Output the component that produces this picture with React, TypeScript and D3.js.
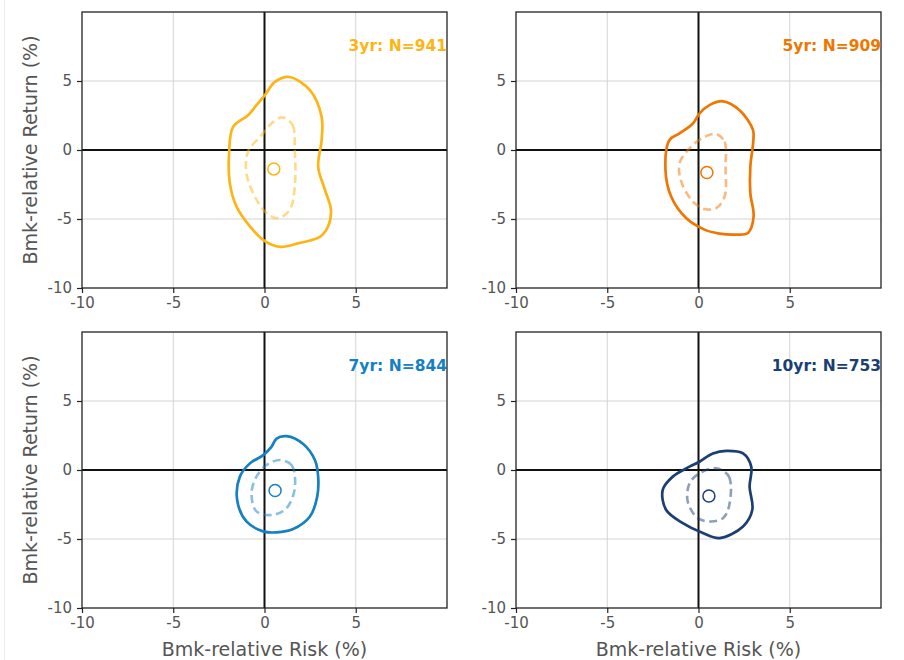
import React, { useEffect, useRef } from "react";
import * as d3 from "d3";

// contour points: [risk, return] in %
const outer3: [number, number][] = [
  [1.35, 5.29], [2.49, 4.33], [3.13, 2.4], [3.13, 0.72], [2.94, -1.2], [3.31, -2.88],
  [3.64, -4.33], [3.49, -5.53], [3.03, -6.3], [1.94, -6.73], [0.84, -7.02], [0.02, -6.61],
  [-0.8, -5.53], [-1.54, -4.09], [-1.9, -2.4], [-1.94, -0.24], [-1.72, 1.68], [-0.9, 2.52],
  [-0.44, 3.25], [0.02, 3.97], [0.57, 4.93],
];
const inner3: [number, number][] = [
  [0.99, 2.36], [1.54, 1.8], [1.66, 0], [1.66, -2.64], [1.39, -4.33], [0.75, -4.93],
  [0.11, -4.57], [-0.53, -3.37], [-0.99, -1.68], [-0.9, -0.12], [-0.16, 1.08], [0.48, 2.04],
];
const outer5: [number, number][] = [
  [1.34, 3.53], [2.25, 2.88], [2.99, 1.44], [2.99, 0.48], [2.84, -1.2], [2.84, -3.13],
  [3.02, -4.81], [2.71, -6.01], [2.07, -6.13], [1.15, -6.06], [0.33, -5.77], [-0.68, -4.93],
  [-1.5, -3.37], [-1.81, -1.44], [-1.59, 0.72], [-1.04, 1.2], [-0.31, 1.92], [0.05, 2.64],
  [0.6, 3.25],
];
const inner5: [number, number][] = [
  [0.97, 1.15], [1.43, 0.6], [1.48, -1.2], [1.43, -3.37], [0.97, -4.21], [0.33, -4.28],
  [-0.31, -3.73], [-0.95, -2.28], [-1.04, -0.96], [-0.49, 0.12], [0.33, 0.96],
];
const outer7: [number, number][] = [
  [1.21, 2.45], [2.12, 1.88], [2.76, 0.72], [2.94, -0.48], [2.89, -1.92], [2.49, -3.37],
  [1.57, -4.28], [0.66, -4.52], [-0.07, -4.45], [-0.99, -3.73], [-1.5, -2.16], [-1.35, -0.48],
  [-0.8, 0.48], [-0.07, 1.08], [0.38, 1.68], [0.66, 2.28],
];
const inner7: [number, number][] = [
  [0.84, 0.72], [1.48, 0.36], [1.66, -1.32], [1.21, -2.76], [0.48, -3.25], [-0.44, -3.0],
  [-0.71, -1.68], [-0.44, -0.48], [0.11, 0.36],
];
const outer10: [number, number][] = [
  [1.52, 1.39], [2.44, 1.2], [2.89, 0.24], [2.8, -1.2], [2.95, -2.88], [2.44, -4.09],
  [1.15, -4.93], [0.24, -4.57], [-0.86, -3.85], [-1.78, -2.88], [-1.96, -1.44], [-1.41, -0.48],
  [-0.49, 0.24], [0.05, 0.6], [0.79, 1.2],
];
const inner10: [number, number][] = [
  [0.97, 0.12], [1.67, -0.48], [1.67, -2.64], [1.34, -3.49], [0.7, -3.73], [-0.04, -3.49],
  [-0.59, -2.28], [-0.49, -0.96], [0.05, -0.24],
];

const periods = ["3yr", "5yr", "7yr", "10yr"];
const counts = [941, 909, 844, 753];
const means: [number, number][] = [[0.51, -1.37], [0.46, -1.63], [0.58, -1.49], [0.57, -1.88]];
const outers = [outer3, outer5, outer7, outer10];
const inners = [inner3, inner5, inner7, inner10];
const colors = ["#FDB515", "#EF7600", "#1580C4", "#1B3F73"];
const ticks = [-10, -5, 0, 5];
const gridTicks = [-5, 5];

const W = 904, H = 660;
const panels = [
  { left: 82, top: 12 },
  { left: 516, top: 12 },
  { left: 82, top: 332 },
  { left: 516, top: 332 },
];
const PW = 365, PH = 276;

export default function App() {
  const ref = useRef<SVGSVGElement>(null);

  useEffect(() => {
    const svg = d3.select(ref.current);
    svg.selectAll("*").remove();
    const font = "DejaVu Sans";

    svg.append("rect").attr("width", W).attr("height", H).attr("fill", "#fff");
    svg.append("line").attr("x1", 4.5).attr("x2", 4.5).attr("y1", 0).attr("y2", H)
      .attr("stroke", "#e6edf5").attr("stroke-width", 1);

    panels.forEach((p, i) => {
      const x = d3.scaleLinear().domain([-10, 10]).range([p.left, p.left + PW]);
      const y = d3.scaleLinear().domain([-10, 10]).range([p.top + PH, p.top]);
      const g = svg.append("g");

      // grid
      gridTicks.forEach((t) => {
        g.append("line").attr("x1", x(t)).attr("x2", x(t)).attr("y1", p.top).attr("y2", p.top + PH)
          .attr("stroke", "#d4d4d4").attr("stroke-width", 1);
        g.append("line").attr("y1", y(t)).attr("y2", y(t)).attr("x1", p.left).attr("x2", p.left + PW)
          .attr("stroke", "#d4d4d4").attr("stroke-width", 1);
      });

      // zero lines
      g.append("line").attr("x1", x(0)).attr("x2", x(0)).attr("y1", p.top).attr("y2", p.top + PH)
        .attr("stroke", "#111").attr("stroke-width", 2);
      g.append("line").attr("y1", y(0)).attr("y2", y(0)).attr("x1", p.left).attr("x2", p.left + PW)
        .attr("stroke", "#111").attr("stroke-width", 2);

      const line = d3.line<[number, number]>()
        .x((d) => x(d[0])).y((d) => y(d[1]))
        .curve(d3.curveCatmullRomClosed.alpha(0.5));

      g.append("path").attr("d", line(inners[i])).attr("fill", "none")
        .attr("stroke", colors[i]).attr("stroke-opacity", 0.5)
        .attr("stroke-width", 2.6).attr("stroke-dasharray", "8,4.5");
      g.append("path").attr("d", line(outers[i])).attr("fill", "none")
        .attr("stroke", colors[i]).attr("stroke-width", 2.7);
      g.append("circle").attr("cx", x(means[i][0])).attr("cy", y(means[i][1])).attr("r", 6)
        .attr("fill", "none").attr("stroke", colors[i]).attr("stroke-width", 1.5);

      // frame
      g.append("rect").attr("x", p.left).attr("y", p.top).attr("width", PW).attr("height", PH)
        .attr("fill", "none").attr("stroke", "#222").attr("stroke-width", 1.3);

      // axes
      const xa = g.append("g").attr("transform", `translate(0,${p.top + PH})`)
        .call(d3.axisBottom(x).tickValues(ticks).tickSize(5).tickPadding(4).tickFormat(d3.format("d")));
      const ya = g.append("g").attr("transform", `translate(${p.left},0)`)
        .call(d3.axisLeft(y).tickValues(ticks).tickSize(5).tickPadding(5).tickFormat(d3.format("d")));
      [xa, ya].forEach((a) => {
        a.attr("font-size", null).attr("font-family", null);
        a.select(".domain").remove();
        a.selectAll("line").attr("stroke", "#222").attr("stroke-width", 1.2);
        a.selectAll("text").style("font-size", "15px").style("font-family", font).attr("fill", "#555");
        a.selectAll("text").text((d: any) => String(d).replace("−", "-"));
      });

      g.append("text").attr("x", p.left + PW).attr("y", p.top + 39).attr("text-anchor", "end")
        .style("font-family", font).attr("font-weight", "bold").style("font-size", "15.5px")
        .attr("fill", colors[i]).text(`${periods[i]}: N=${counts[i]}`);

      if (i % 2 === 0) {
        g.append("text")
          .attr("transform", `translate(${p.left - 45},${p.top + PH / 2}) rotate(-90)`)
          .attr("text-anchor", "middle").style("font-family", font).style("font-size", "19px")
          .attr("fill", "#555").text("Bmk-relative Return (%)");
      }
      if (i >= 2) {
        g.append("text").attr("x", p.left + PW / 2).attr("y", p.top + PH + 48)
          .attr("text-anchor", "middle").style("font-family", font).style("font-size", "19px")
          .attr("fill", "#555").text("Bmk-relative Risk (%)");
      }
    });
  }, []);

  return (
    <svg ref={ref} width={W} height={H} style={{ position: "absolute", left: 0, top: 0 }} />
  );
}
